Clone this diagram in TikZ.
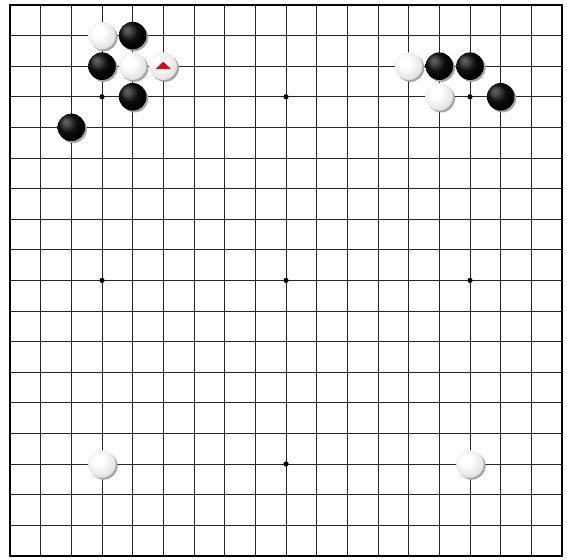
\documentclass[tikz,border=0pt]{standalone}
\pgfdeclareradialshading{wstoneshade}{\pgfpoint{-9bp}{9bp}}{%
  color(0bp)=(white); color(10bp)=(white); color(26bp)=(black!10);
  color(40bp)=(black!30); color(50bp)=(black!42)}
\pgfdeclareradialshading{bstoneshade}{\pgfpoint{-11bp}{11bp}}{%
  color(0bp)=(black!62); color(5bp)=(black!68); color(16bp)=(black!94);
  color(26bp)=(black); color(50bp)=(black)}
\tikzset{
  gridline/.style={line width=0.8pt, black!85},
  border/.style={line width=1.6pt, black},
  hoshi/.style={fill=black},
  shadow/.style={fill=black!35},
  wstone/.style={shading=wstoneshade},
  bstone/.style={shading=bstoneshade}
}
\newcommand\stoneB[2]{%
  \fill[shadow] (#1-1+0.06,#2-1+0.06) circle[radius=13.8pt];
  \path[bstone] (#1-1,#2-1) circle[radius=13.8pt];}
\newcommand\stoneW[2]{%
  \fill[shadow] (#1-1+0.06,#2-1+0.06) circle[radius=13.8pt];
  \path[wstone] (#1-1,#2-1) circle[radius=13.8pt];}
\begin{document}
\begin{tikzpicture}[x=1pt,y=1pt]
\useasboundingbox[fill=white] (0,0) rectangle (567,-559);
\begin{scope}[shift={(10pt,-5pt)}, x=30.667pt, y=-30.6pt]
  \foreach \i in {1,...,17} {
    \draw[gridline] (\i,0) -- (\i,18);
    \draw[gridline] (0,\i) -- (18,\i);
  }
  \draw[border] (0,0) rectangle (18,18);
  \foreach \c in {3,9,15} \foreach \r in {3,9,15}
    \fill[hoshi] (\c,\r) circle[radius=2.6pt];
  % top-left group
  \stoneW{4}{2}
  \stoneB{5}{2}
  \stoneB{4}{3}
  \stoneW{5}{3}
  \stoneW{6}{3}
  \stoneB{5}{4}
  \stoneB{3}{5}
  % top-right group
  \stoneW{14}{3}
  \stoneB{15}{3}
  \stoneB{16}{3}
  \stoneW{15}{4}
  \stoneB{17}{4}
  % bottom
  \stoneW{4}{16}
  \stoneW{16}{16}
  % red triangle marker on last move
  \coordinate (m) at (5,2);
  \fill[red!90!black] ([shift={(0pt,4.5pt)}]m) -- ([shift={(-7.5pt,-2.8pt)}]m) -- ([shift={(7.5pt,-2.8pt)}]m) -- cycle;
\end{scope}
\end{tikzpicture}
\end{document}
